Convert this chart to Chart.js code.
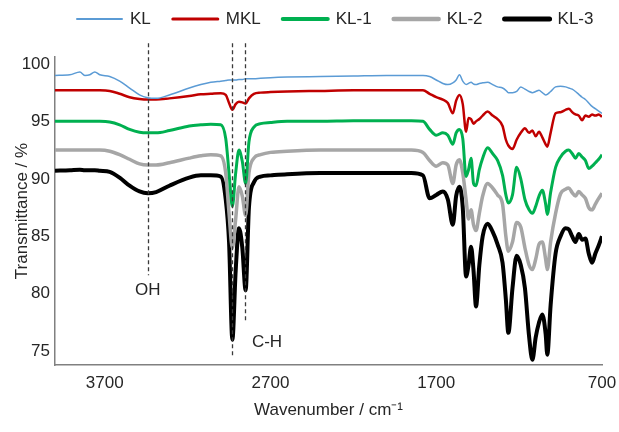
<!DOCTYPE html>
<html><head><meta charset="utf-8">
<script src="https://cdn.jsdelivr.net/npm/chart.js@4/dist/chart.umd.min.js"></script>
<style>html,body{margin:0;padding:0;background:#fff}#wrap{width:619px;height:432px}</style>
</head><body><div id="wrap"><canvas id="c" width="619" height="432"></canvas></div>
<script>
// ---- data (wavenumber in cm-1, transmittance in %) ----
const wavenumbers = [4000,3910,3850,3820,3790,3760,3730,
 3670,3610,3550,3490,3440,3390,3310,
 3190,3120,3060,3000,2970,2950,2930,
 2910,2890,2870,2850,2830,2800,2760,
 2700,2600,2400,2200,2000,1850,1780,
 1740,1700,1660,1630,1600,1580,1560,
 1540,1520,1505,1490,1475,1460,1440,
 1420,1390,1360,1330,1300,1280,1265,
 1240,1215,1190,1165,1140,1120,1100,
 1080,1060,1040,1030,1010,980,950,
 920,900,880,860,840,820,800,
 780,760,740,720,700];
const KL = [99.0,99.05,99.3,99.0,99.05,99.3,99.05,
 98.9,98.5,97.9,97.3,97.05,97.0,97.3,
 97.9,98.2,98.4,98.5,98.55,98.6,98.6,
 98.6,98.65,98.65,98.7,98.7,98.7,98.75,
 98.8,98.85,98.9,98.95,99.0,99.0,99.0,
 98.9,98.6,98.3,98.2,98.35,98.6,99.05,
 98.5,98.2,98.3,98.4,98.25,98.2,98.3,
 98.35,98.4,98.2,98.0,97.9,97.7,97.5,
 97.5,97.6,98.0,97.8,97.6,97.5,97.6,
 97.7,97.5,97.3,97.35,97.6,98.0,98.05,
 98.0,97.9,97.8,97.6,97.35,97.1,96.9,
 96.6,96.3,96.1,95.9,95.7];
const MKL = [97.7,97.7,97.7,97.7,97.7,97.7,97.7,
 97.65,97.4,97.1,96.95,96.9,96.9,97.0,
 97.2,97.35,97.4,97.45,97.3,96.6,96.0,
 96.5,96.7,96.65,96.55,97.0,97.4,97.5,
 97.55,97.6,97.65,97.7,97.7,97.7,97.7,
 97.4,97.1,96.9,96.6,95.7,96.8,97.3,
 96.5,94.1,95.3,95.2,94.8,95.0,95.2,
 95.5,95.85,95.5,95.2,94.6,93.4,92.9,
 92.6,93.4,94.0,94.4,94.0,94.2,93.7,
 94.1,93.6,93.0,92.8,94.0,95.7,95.8,
 96.0,96.1,95.8,95.6,95.5,95.1,95.5,
 95.4,95.6,95.5,95.6,95.4];
const KL1 = [95.0,95.0,95.0,95.0,95.0,95.0,95.0,
 94.95,94.7,94.3,94.05,94.0,94.0,94.2,
 94.6,94.7,94.75,94.7,93.5,90.5,87.6,
 90.5,92.5,91.5,89.6,93.2,94.5,94.8,
 94.9,95.0,95.0,95.05,95.05,95.05,95.0,
 94.3,93.8,94.0,93.8,93.0,94.0,94.3,
 93.5,90.2,90.8,91.8,89.6,89.4,90.8,
 91.8,92.7,92.2,91.6,90.3,88.6,87.9,
 88.6,91.0,90.0,88.2,87.3,87.0,87.6,
 88.5,89.0,87.8,86.9,88.8,91.0,91.9,
 92.4,92.5,92.2,91.8,92.2,91.9,91.6,
 90.9,91.1,91.4,91.7,92.1];
const KL2 = [92.5,92.5,92.5,92.5,92.5,92.5,92.5,
 92.4,92.1,91.7,91.3,91.2,91.2,91.4,
 91.8,92.0,92.1,92.0,90.5,87.0,84.0,
 86.5,89.3,88.5,86.8,90.5,91.8,92.1,
 92.3,92.4,92.5,92.5,92.5,92.5,92.3,
 91.6,91.1,91.4,91.2,89.6,91.2,91.65,
 90.5,88.2,86.5,87.3,86.0,85.5,87.0,
 88.5,89.6,89.2,88.6,87.8,85.0,83.7,
 84.5,86.2,85.8,84.0,82.5,82.1,83.0,
 84.3,84.5,83.0,82.1,84.5,87.0,88.7,
 89.1,89.2,88.8,88.5,88.9,88.6,88.3,
 87.5,87.3,87.8,88.3,88.75];
const KL3 = [90.7,90.75,90.8,90.75,90.75,90.75,90.7,
 90.6,90.1,89.4,88.9,88.75,88.85,89.4,
 90.1,90.3,90.3,90.2,88.2,84.5,76.0,
 82.0,85.7,84.0,80.3,87.5,89.7,90.2,
 90.3,90.4,90.5,90.5,90.5,90.5,90.3,
 88.3,88.6,88.9,88.2,86.0,88.5,89.3,
 87.5,81.5,82.5,84.1,82.0,78.9,82.5,
 85.0,86.1,85.4,84.3,82.7,79.5,76.6,
 80.5,83.3,82.5,80.5,76.3,74.25,76.2,
 77.5,78.2,76.5,74.7,79.0,83.5,85.0,
 85.7,85.6,85.0,84.5,85.2,84.7,84.8,
 83.5,82.7,83.5,84.2,85.0];
const seriesNames = ['KL','MKL','KL-1','KL-2','KL-3'];
const seriesValues = [KL, MKL, KL1, KL2, KL3];
const xTicks = [3700, 2700, 1700, 700];
const yTicks = [75, 80, 85, 90, 95, 100];
// marker lines (wavenumber, transmittance span) and labels
const markerLines = [{wn:3440, from:101.8, to:81.6},{wn:2932, from:101.8, to:74.4},{wn:2853, from:101.8, to:77.5}];
const markerLabels = [{text:'OH', wn:3440, t:80.3, align:'center'},{text:'C-H', wn:2812, t:75.8, align:'left'}];

// ---- styles ----
const FONT = '"Liberation Sans", Arial, sans-serif';
const TXT = '#262626';
const styles = [
  {color:'#5b9bd5', width:1.5, legendWidth:2},
  {color:'#c00000', width:2.5, legendWidth:3},
  {color:'#00b050', width:3, legendWidth:4},
  {color:'#a6a6a6', width:3.5, legendWidth:4.5},
  {color:'#000000', width:4, legendWidth:5}
];

const datasets = seriesNames.map((name, i) => ({
  label: name,
  data: wavenumbers.map((w, j) => ({x: w, y: seriesValues[i][j]})),
  borderColor: styles[i].color,
  backgroundColor: styles[i].color,
  borderWidth: styles[i].width,
  pointRadius: 0,
  fill: false,
  cubicInterpolationMode: 'monotone'
}));

const extras = {
  id: 'extras',
  afterDatasetsDraw(chart) {
    const {ctx, scales: {x, y}} = chart;
    ctx.save();
    ctx.strokeStyle = '#3a3a3a';
    ctx.lineWidth = 1.3;
    ctx.setLineDash([4, 3]);
    markerLines.forEach(m => {
      const px = Math.round(x.getPixelForValue(m.wn)) + 0.5;
      ctx.beginPath();
      ctx.moveTo(px, y.getPixelForValue(m.from));
      ctx.lineTo(px, y.getPixelForValue(m.to));
      ctx.stroke();
    });
    ctx.setLineDash([]);
    ctx.fillStyle = TXT;
    ctx.font = '17px ' + FONT;
    ctx.textBaseline = 'middle';
    markerLabels.forEach(l => {
      ctx.textAlign = l.align;
      ctx.fillText(l.text, x.getPixelForValue(l.wn), y.getPixelForValue(l.t));
    });
    ctx.restore();
  },
  afterDraw(chart) {
    const ctx = chart.ctx;
    ctx.save();
    ctx.font = '17px ' + FONT;
    ctx.textBaseline = 'middle';
    ctx.textAlign = 'left';
    let cx = 77; const cy = 19;
    chart.data.datasets.forEach((ds, i) => {
      ctx.strokeStyle = styles[i].color;
      ctx.lineWidth = styles[i].legendWidth;
      ctx.lineCap = 'round';
      ctx.beginPath(); ctx.moveTo(cx, cy); ctx.lineTo(cx + 45, cy); ctx.stroke();
      ctx.fillStyle = TXT;
      ctx.fillText(ds.label, cx + 53, cy);
      cx += 53 + ctx.measureText(ds.label).width + 22;
    });
    ctx.restore();
  }
};

new Chart(document.getElementById('c'), {
  type: 'line',
  data: {datasets},
  plugins: [extras],
  options: {
    responsive: false,
    animation: false,
    devicePixelRatio: 1,
    layout: {padding: {top: 57, right: 17, bottom: 0, left: 0}},
    plugins: {legend: {display: false}, tooltip: {enabled: false}},
    scales: {
      x: {
        type: 'linear', reverse: true, min: 700, max: 4000,
        afterBuildTicks: s => { s.ticks = xTicks.map(v => ({value: v})); },
        afterFit: s => { s.height = 67; s.paddingLeft = 0; s.paddingRight = 0; },
        ticks: {color: TXT, font: {family: FONT, size: 17}, padding: 8, maxRotation: 0, autoSkip: false, callback: v => String(v)},
        grid: {display: false, drawTicks: false},
        border: {display: true, color: '#808080', width: 1.5},
        title: {display: true, text: 'Wavenumber / cm\u207B\u00B9', color: TXT, font: {family: FONT, size: 17}, padding: {top: 0, bottom: 11}}
      },
      y: {
        min: 73.8, max: 100.6,
        afterBuildTicks: s => { s.ticks = yTicks.map(v => ({value: v})); },
        afterFit: s => { s.width = 55; },
        ticks: {color: TXT, font: {family: FONT, size: 17}, padding: 5, callback: v => String(v)},
        grid: {display: false, drawTicks: false},
        border: {display: true, color: '#808080', width: 1.5},
        title: {display: true, text: 'Transmittance / %', color: TXT, font: {family: FONT, size: 17}, padding: {top: 12, bottom: 0}}
      }
    }
  }
});
</script></body></html>
